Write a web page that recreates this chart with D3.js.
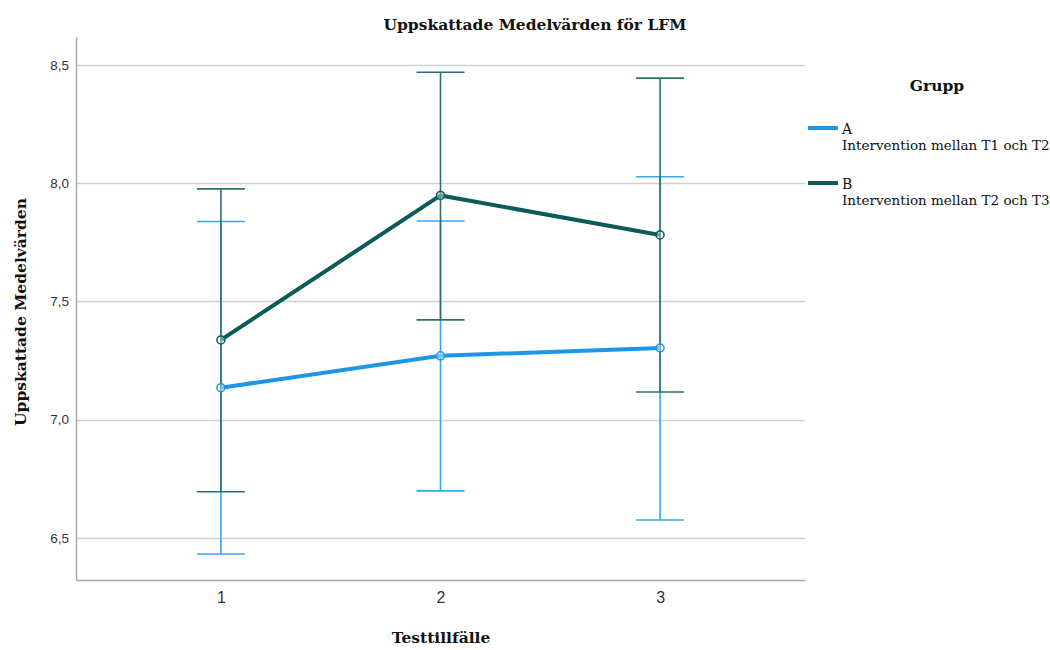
<!DOCTYPE html>
<html>
<head>
<meta charset="utf-8">
<script src="https://cdn.jsdelivr.net/npm/d3@7"></script>
<style>
  body { margin: 0; background: #fff; }
  svg { display: block; }
</style>
</head>
<body>
<svg width="1050" height="650"></svg>
<script>
const width = 1050;
const height = 650;

// data
const occasions = [1, 2, 3];
const groupNames = ['A', 'B'];
const groupLabels = ['Intervention mellan T1 och T2', 'Intervention mellan T2 och T3'];
const meansA = [7.135, 7.27, 7.303];
const lowA = [6.432, 6.699, 6.576];
const highA = [7.838, 7.840, 8.027];
const meansB = [7.337, 7.948, 7.781];
const lowB = [6.695, 7.422, 7.117];
const highB = [7.976, 8.469, 8.444];
const yTicks = [6.5, 7.0, 7.5, 8.0, 8.5];

const lineColors = ['#1e96e6', '#0b5c58'];
const barColors = ['#3aa6ea', '#2a716e'];

const serif = 'DejaVu Serif, serif';
const sans = 'Liberation Sans, Arial, sans-serif';

const margin = {left: 76, right: 245, top: 37, bottom: 70};

const svg = d3.select('svg');

const x = d3.scaleLinear()
    .domain([0.34, 3.66])
    .range([margin.left, width - margin.right]);

const y = d3.scaleLinear()
    .domain([6.322, 8.618])
    .range([height - margin.bottom, margin.top]);

// grid lines
svg.append('g')
    .selectAll('line')
    .data(yTicks)
    .join('line')
    .attr('x1', margin.left)
    .attr('x2', width - margin.right)
    .attr('y1', d => Math.round(y(d)) + 0.5)
    .attr('y2', d => Math.round(y(d)) + 0.5)
    .attr('stroke', '#d0d0d0')
    .attr('stroke-width', 1.5);

// y axis
const yAxis = svg.append('g')
    .attr('transform', `translate(${margin.left},0)`)
    .call(d3.axisLeft(y).tickValues(yTicks).tickSize(0).tickPadding(7)
        .tickFormat(d => d3.format('.1f')(d).replace('.', ',')));
yAxis.select('.domain').attr('stroke', '#aaa').attr('stroke-width', 1.5);
yAxis.selectAll('text')
    .attr('font-family', sans)
    .attr('font-size', 13.5)
    .attr('fill', '#333');

// x axis
const xAxis = svg.append('g')
    .attr('transform', `translate(0,${height - margin.bottom})`)
    .call(d3.axisBottom(x).tickValues(occasions).tickSize(0).tickPadding(12)
        .tickFormat(d3.format('d')));
xAxis.select('.domain').attr('stroke', '#aaa').attr('stroke-width', 1.5);
xAxis.selectAll('text')
    .attr('font-family', sans)
    .attr('font-size', 16)
    .attr('fill', '#333');

const series = [
    {means: meansA, low: lowA, high: highA},
    {means: meansB, low: lowB, high: highB}
];

const capHalf = 24;

series.forEach(function (s, i) {
    const g = svg.append('g');
    // error bars
    occasions.forEach(function (o, j) {
        const cx = x(o);
        g.append('line')
            .attr('x1', cx).attr('x2', cx)
            .attr('y1', y(s.low[j])).attr('y2', y(s.high[j]))
            .attr('stroke', barColors[i]).attr('stroke-width', 1.6);
        [s.low[j], s.high[j]].forEach(function (v) {
            g.append('line')
                .attr('x1', cx - capHalf).attr('x2', cx + capHalf)
                .attr('y1', y(v)).attr('y2', y(v))
                .attr('stroke', barColors[i]).attr('stroke-width', 1.6);
        });
    });
});

series.forEach(function (s, i) {
    const g = svg.append('g');
    const line = d3.line()
        .x((d, j) => x(occasions[j]))
        .y(d => y(d));
    g.append('path')
        .datum(s.means)
        .attr('d', line)
        .attr('fill', 'none')
        .attr('stroke', lineColors[i])
        .attr('stroke-width', 4);
    g.selectAll('circle')
        .data(s.means)
        .join('circle')
        .attr('cx', (d, j) => x(occasions[j]))
        .attr('cy', d => y(d))
        .attr('r', 4)
        .attr('fill', 'rgba(255,255,255,0.4)')
        .attr('stroke', lineColors[i])
        .attr('stroke-width', 1.5);
});

// titles
svg.append('text')
    .attr('x', 535).attr('y', 30)
    .attr('text-anchor', 'middle')
    .attr('font-family', serif)
    .attr('font-weight', 'bold')
    .attr('font-size', 15.5)
    .attr('fill', '#111')
    .text('Uppskattade Medelvärden för LFM');

svg.append('text')
    .attr('x', 441).attr('y', 643)
    .attr('text-anchor', 'middle')
    .attr('font-family', serif)
    .attr('font-weight', 'bold')
    .attr('font-size', 15.5)
    .attr('fill', '#111')
    .text('Testtillfälle');

svg.append('text')
    .attr('transform', 'translate(26,312) rotate(-90)')
    .attr('text-anchor', 'middle')
    .attr('font-family', serif)
    .attr('font-weight', 'bold')
    .attr('font-size', 15.5)
    .attr('fill', '#111')
    .text('Uppskattade Medelvärden');

// legend
const legend = svg.append('g');
legend.append('text')
    .attr('x', 937).attr('y', 91)
    .attr('text-anchor', 'middle')
    .attr('font-family', serif)
    .attr('font-weight', 'bold')
    .attr('font-size', 15.5)
    .attr('fill', '#111')
    .text('Grupp');

groupNames.forEach(function (name, i) {
    const yy = 128 + i * 55;
    legend.append('line')
        .attr('x1', 808).attr('x2', 838)
        .attr('y1', yy).attr('y2', yy)
        .attr('stroke', lineColors[i])
        .attr('stroke-width', 4);
    legend.append('text')
        .attr('x', 842).attr('y', yy + 6)
        .attr('font-family', serif)
        .attr('font-size', 14)
        .attr('fill', '#111')
        .text(name);
    legend.append('text')
        .attr('x', 842).attr('y', yy + 22)
        .attr('font-family', serif)
        .attr('font-size', 13.5)
        .attr('fill', '#111')
        .text(groupLabels[i]);
});
</script>
</body>
</html>
